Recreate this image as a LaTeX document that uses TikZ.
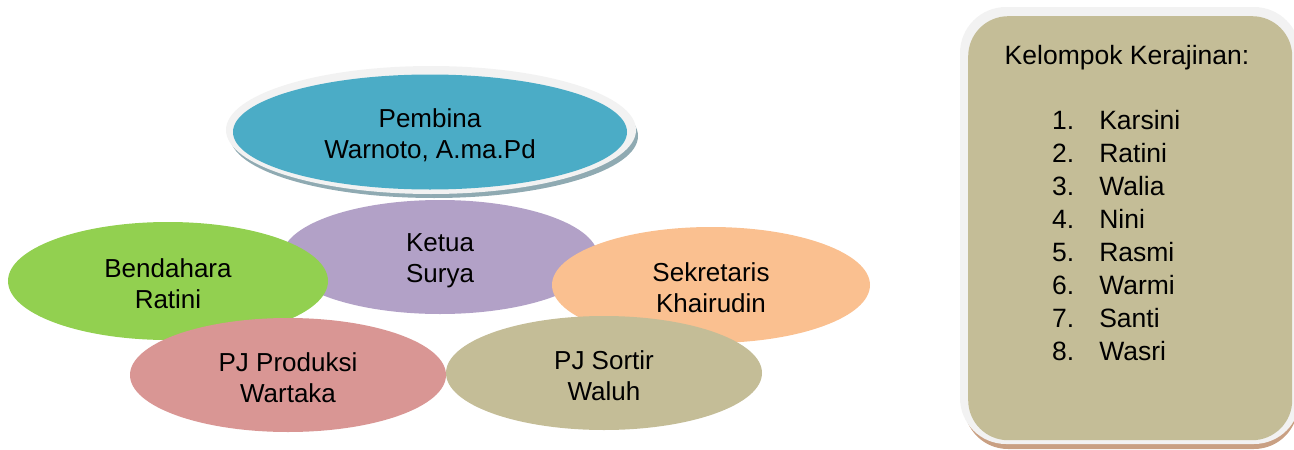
\documentclass[tikz,border=0pt]{standalone}
\usepackage{fontspec}
\setmainfont{Liberation Sans}
\usetikzlibrary{shapes.geometric}
\definecolor{teal1}{HTML}{4BACC6}
\definecolor{tealsh}{HTML}{8FAAB2}
\definecolor{rimc}{HTML}{F2F2F2}
\definecolor{purp}{HTML}{B2A1C7}
\definecolor{grn}{HTML}{92D050}
\definecolor{peach}{HTML}{FAC090}
\definecolor{pink1}{HTML}{D99694}
\definecolor{tan1}{HTML}{C4BD97}
\definecolor{brsh}{HTML}{C9A083}
\newcommand{\tp}{\rule{0pt}{25pt}}
\tikzset{
  oval/.style={ellipse, inner sep=0pt, align=center, font=\fontsize{26}{31}\selectfont, text=black},
  boxtxt/.style={inner sep=0pt, font=\fontsize{26.5}{33}\selectfont, text=black}
}
\begin{document}
\begin{tikzpicture}[x=1pt,y=-1pt]
\useasboundingbox (0,0) rectangle (1294,450);
% Ovals
\node[oval, fill=purp, minimum width=316, minimum height=114] (ketua) at (440,257) {\tp Ketua\\Surya};
\node[oval, fill=grn, minimum width=320, minimum height=118] (bend) at (168,281) {\tp Bendahara\\Ratini};
\node[oval, fill=peach, minimum width=318, minimum height=116] (sekr) at (711,285) {\tp Sekretaris\\Khairudin};
\node[oval, fill=pink1, minimum width=316, minimum height=114] (prod) at (288,375) {\tp PJ Produksi\\Wartaka};
\node[oval, fill=tan1, minimum width=316, minimum height=114] (sort) at (604,373) {\tp PJ Sortir\\Waluh};
% Pembina
\node[ellipse, fill=tealsh, minimum width=408, minimum height=124] (pemsh) at (434,136) {};
\node[ellipse, fill=rimc, minimum width=410, minimum height=128] (pemrim) at (431,130) {};
\node[oval, fill=teal1, minimum width=394, minimum height=115] (pembina) at (430,132) {\tp Pembina\\Warnoto, A.ma.Pd};
% Right box
\fill[brsh, rounded corners=44] (964,20) rectangle (1298,449);
\fill[rimc, rounded corners=46] (960,7) rectangle (1300,444);
\node[fill=tan1, rounded corners=40, minimum width=324, minimum height=424, inner sep=0pt, anchor=north west] (box) at (968,16) {};
\node[boxtxt] (title) at (1127,58) {Kelompok Kerajinan:};
\node[boxtxt, anchor=north west] (list) at (1052,106) {%
\begin{tabular}{@{}l@{\hspace{25pt}}l@{}}
1. & Karsini\\
2. & Ratini\\
3. & Walia\\
4. & Nini\\
5. & Rasmi\\
6. & Warmi\\
7. & Santi\\
8. & Wasri
\end{tabular}};
\end{tikzpicture}
\end{document}
